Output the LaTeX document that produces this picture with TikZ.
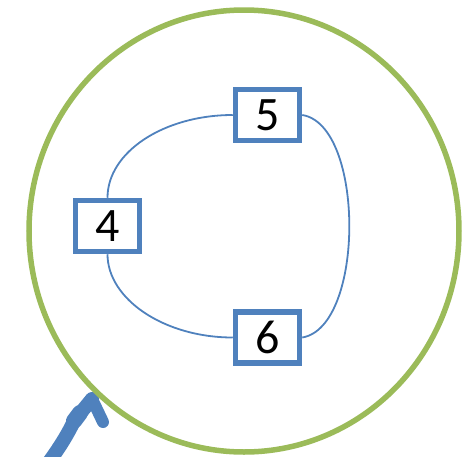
\documentclass[tikz,border=0pt]{standalone}
\usepackage{fontspec}
\usetikzlibrary{shapes.geometric}
\setmainfont{Carlito}
\definecolor{ringgreen}{HTML}{9BBB59}
\definecolor{boxblue}{HTML}{4F81BD}
\begin{document}
\begin{tikzpicture}[x=1pt,y=-1pt,
  numbox/.style={draw=boxblue, line width=5.5pt, fill=white, minimum width=64pt, minimum height=51pt, inner sep=0pt, font=\fontsize{48}{48}\selectfont},
  link/.style={draw=boxblue, line width=1.8pt},
  handarrow/.style={draw=boxblue, line width=14pt, line cap=round, line join=round}]
\useasboundingbox (0,0) rectangle (464,456);
% hand-drawn arrow
\coordinate (tip) at (92,399);
\draw[handarrow] (46,466) .. controls (58,450) and (68,434) .. (74,421) -- (tip);
\draw[handarrow, line width=12pt] (tip) -- (103,422);
\draw[handarrow, line width=16pt] (74,421) -- (80,413);
% ring
\node[draw=ringgreen, line width=5.5pt, ellipse, minimum width=430pt, minimum height=442pt, inner sep=0pt] (ring) at (244,231) {};
% boxes
\node[numbox] (n5) at (267.5,115) {5};
\node[numbox] (n4) at (107.5,226) {4};
\node[numbox] (n6) at (267.5,337.5) {6};
% connectors
\draw[link] (n5.west) .. controls (164,115) and (107.5,152) .. (n4.north);
\draw[link] (n4.south) .. controls (107.5,299) and (164,337.5) .. (n6.west);
\draw[link] (n5.east) .. controls (365,125) and (365,327) .. (n6.east);
\end{tikzpicture}
\end{document}
